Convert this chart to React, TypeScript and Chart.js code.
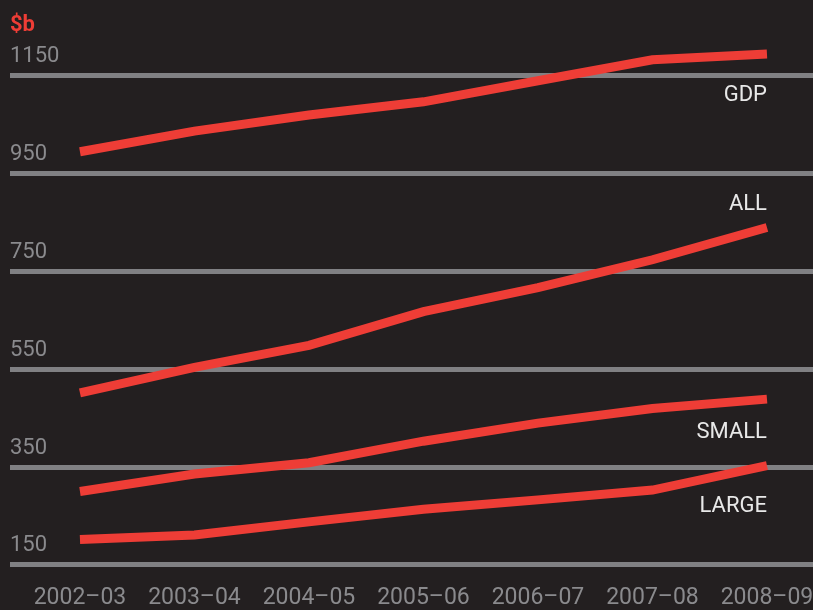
import React, { useEffect, useRef } from "react";
import { Chart, registerables } from "chart.js";

Chart.register(...registerables);

const years = ["2002–03", "2003–04", "2004–05", "2005–06", "2006–07", "2007–08", "2008–09"];
const gdp = [995, 1037, 1070, 1097, 1140, 1183, 1195];
const all = [502, 554, 599, 668, 717, 774, 840];
const small = [300, 336, 359, 403, 440, 470, 489];
const large = [202, 211, 238, 264, 283, 303, 353];
const seriesNames = ["GDP", "ALL", "SMALL", "LARGE"];
const yTicks = [150, 350, 550, 750, 950, 1150];
const unitLabel = "$b";

const BG = "#231f20";
const RED = "#ee3d36";
const GRID = "#808083";
const GREY_TEXT = "#8a8a8d";
const WHITE = "#e8e8e8";
const FONT = "Roboto, 'Liberation Sans', sans-serif";
const labelOffsets = [42, -23, 33, 41];

export default function App() {
  const ref = useRef<HTMLCanvasElement | null>(null);

  useEffect(() => {
    document.body.style.margin = "0";
    document.body.style.background = BG;
    const canvas = ref.current;
    if (!canvas) return;

    const labelPlugin = {
      id: "seriesLabels",
      afterDatasetsDraw(chart: any) {
        const ctx = chart.ctx;
        ctx.save();
        ctx.font = `22px ${FONT}`;
        ctx.fillStyle = WHITE;
        ctx.textAlign = "right";
        ctx.textBaseline = "middle";
        chart.data.datasets.forEach((ds: any, i: number) => {
          const meta = chart.getDatasetMeta(i);
          const pt = meta.data[meta.data.length - 1];
          ctx.fillText(ds.label, pt.x, pt.y + labelOffsets[i]);
        });
        ctx.font = `bold 22px ${FONT}`;
        ctx.fillStyle = RED;
        ctx.textAlign = "left";
        ctx.fillText(unitLabel, chart.chartArea.left, 25);
        ctx.restore();
      },
    };

    const mk = (name: string, vals: number[]) => ({
      label: name,
      data: vals.map((v, i) => ({ x: i, y: v })),
      borderColor: RED,
      borderWidth: 9,
      pointRadius: 0,
      tension: 0,
      borderCapStyle: "butt",
      borderJoinStyle: "miter",
      fill: false,
    });

    const chart = new Chart(canvas, {
      type: "line",
      data: {
        datasets: [
          mk(seriesNames[0], gdp),
          mk(seriesNames[1], all),
          mk(seriesNames[2], small),
          mk(seriesNames[3], large),
        ],
      },
      options: {
        animation: false,
        responsive: false,
        devicePixelRatio: 1,
        layout: { padding: { left: 10, right: 0, top: 27, bottom: 0 } },
        plugins: { legend: { display: false }, tooltip: { enabled: false } },
        scales: {
          x: {
            type: "linear",
            min: -0.611,
            max: 6.402,
            afterBuildTicks: (scale: any) => {
              scale.ticks = years.map((_, i) => ({ value: i }));
            },
            afterFit: (scale: any) => {
              scale.height = 27;
              scale.paddingLeft = 0;
              scale.paddingRight = 0;
            },
            grid: { display: false, drawTicks: false },
            border: { display: false },
            ticks: {
              autoSkip: false,
              maxRotation: 0,
              padding: 0,
              color: GREY_TEXT,
              font: { family: FONT, size: 23, lineHeight: 1.35 },
              callback: (v: any) => years[v] ?? "",
            },
          },
          y: {
            type: "linear",
            min: 113,
            max: 1250,
            afterBuildTicks: (scale: any) => {
              scale.ticks = yTicks.map((v) => ({ value: v }));
            },
            afterFit: (scale: any) => {
              scale.width = 0;
              scale.paddingTop = 0;
              scale.paddingBottom = 0;
            },
            grid: { color: GRID, lineWidth: 5, drawTicks: false },
            border: { display: false },
            ticks: {
              mirror: true,
              padding: 0,
              labelOffset: -19,
              color: GREY_TEXT,
              font: { family: FONT, size: 22 },
              callback: (v: any) => String(v),
            },
          },
        },
      },
      plugins: [labelPlugin],
    } as any);

    return () => chart.destroy();
  }, []);

  return (
    <div style={{ width: 813, height: 610, background: BG }}>
      <canvas ref={ref} width={813} height={610} style={{ display: "block" }} />
    </div>
  );
}
